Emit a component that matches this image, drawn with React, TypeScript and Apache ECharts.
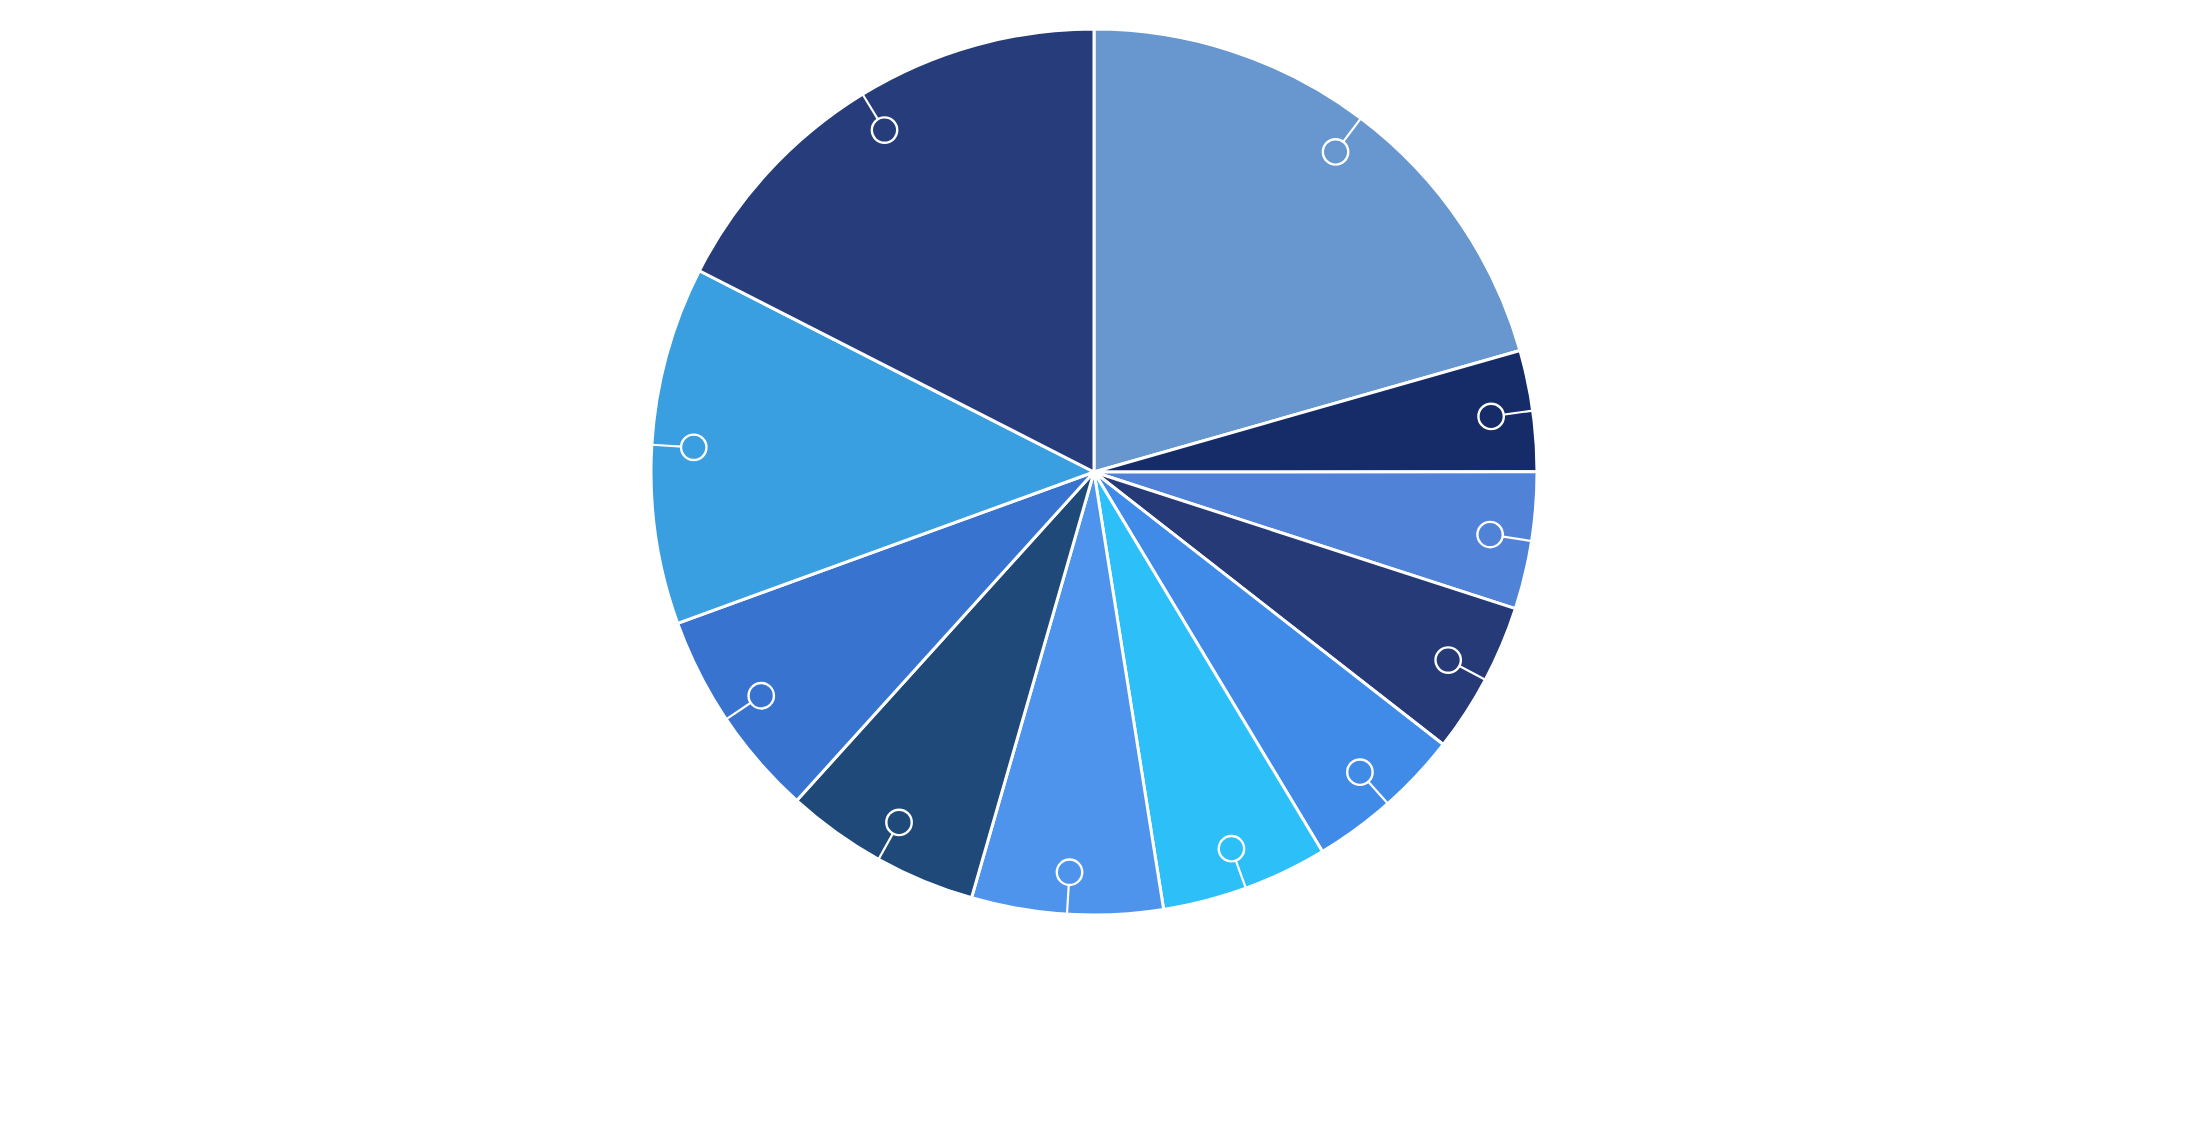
import { useEffect, useRef } from 'react';
import * as echarts from 'echarts';

// 扇区名称、数值（按顺时针，从正上方开始）
const categories = ['A', 'B', 'C', 'D', 'E', 'F', 'G', 'H', 'I', 'J', 'K'];
const values = [74.1, 15.9, 18.0, 20.0, 21.0, 22.0, 25.1, 26.1, 27.9, 47.0, 63.0];
const colors = [
  '#6896cf',
  '#152c69',
  '#5083d7',
  '#263a78',
  '#418be8',
  '#2dbff8',
  '#4e94ec',
  '#1f4979',
  '#3773cf',
  '#3a9fe0',
  '#273c7a',
];

// 标签小圆圈样式
const dotStyle = (fill: string) => ({
  width: 23,
  height: 23,
  borderRadius: 13,
  borderColor: '#ffffff',
  borderWidth: 2.4,
  backgroundColor: fill,
});

const CENTER: [number, number] = [1094, 472];
const RADIUS = 443;

export default function App() {
  const chartRef = useRef<HTMLDivElement>(null);

  useEffect(() => {
    if (!chartRef.current) return;
    const chart = echarts.init(chartRef.current, undefined, { renderer: 'svg' });

    const sliceData = categories.map((name, i) => ({
      name,
      value: values[i],
      itemStyle: { color: colors[i] },
    }));

    // 覆盖层：透明扇区，只用来画引导线和小圆圈（保证画在扇区上面）
    const markerData = categories.map((name, i) => ({
      name,
      value: values[i],
      label: { rich: { dot: dotStyle(colors[i]) } },
    }));

    const option: echarts.EChartsOption = {
      animation: false,
      backgroundColor: '#ffffff',
      series: [
        {
          type: 'pie',
          center: CENTER,
          radius: RADIUS,
          startAngle: 90,
          clockwise: true,
          silent: true,
          itemStyle: {
            borderColor: '#ffffff',
            borderWidth: 3,
          },
          label: { show: false },
          labelLine: { show: false },
          data: sliceData,
        },
        {
          type: 'pie',
          z: 3,
          center: CENTER,
          radius: RADIUS,
          startAngle: 90,
          clockwise: true,
          silent: true,
          avoidLabelOverlap: false,
          itemStyle: {
            color: 'rgba(0,0,0,0)',
            borderWidth: 0,
          },
          label: {
            show: true,
            position: 'outside',
            formatter: '{dot|}',
            distanceToLabelLine: -11.5,
            rich: { dot: dotStyle('transparent') },
          },
          labelLine: {
            show: true,
            showAbove: true,
            length: -42,
            length2: 0,
            smooth: false,
            minTurnAngle: 0,
            maxSurfaceAngle: 360,
            lineStyle: { color: '#ffffff', width: 2.2, opacity: 1 },
          },
          data: markerData,
        },
      ],
    };

    chart.setOption(option);
    return () => {
      chart.dispose();
    };
  }, []);

  return (
    <div
      ref={chartRef}
      style={{ position: 'fixed', left: 0, top: 0, width: '100vw', height: '100vh' }}
    />
  );
}
